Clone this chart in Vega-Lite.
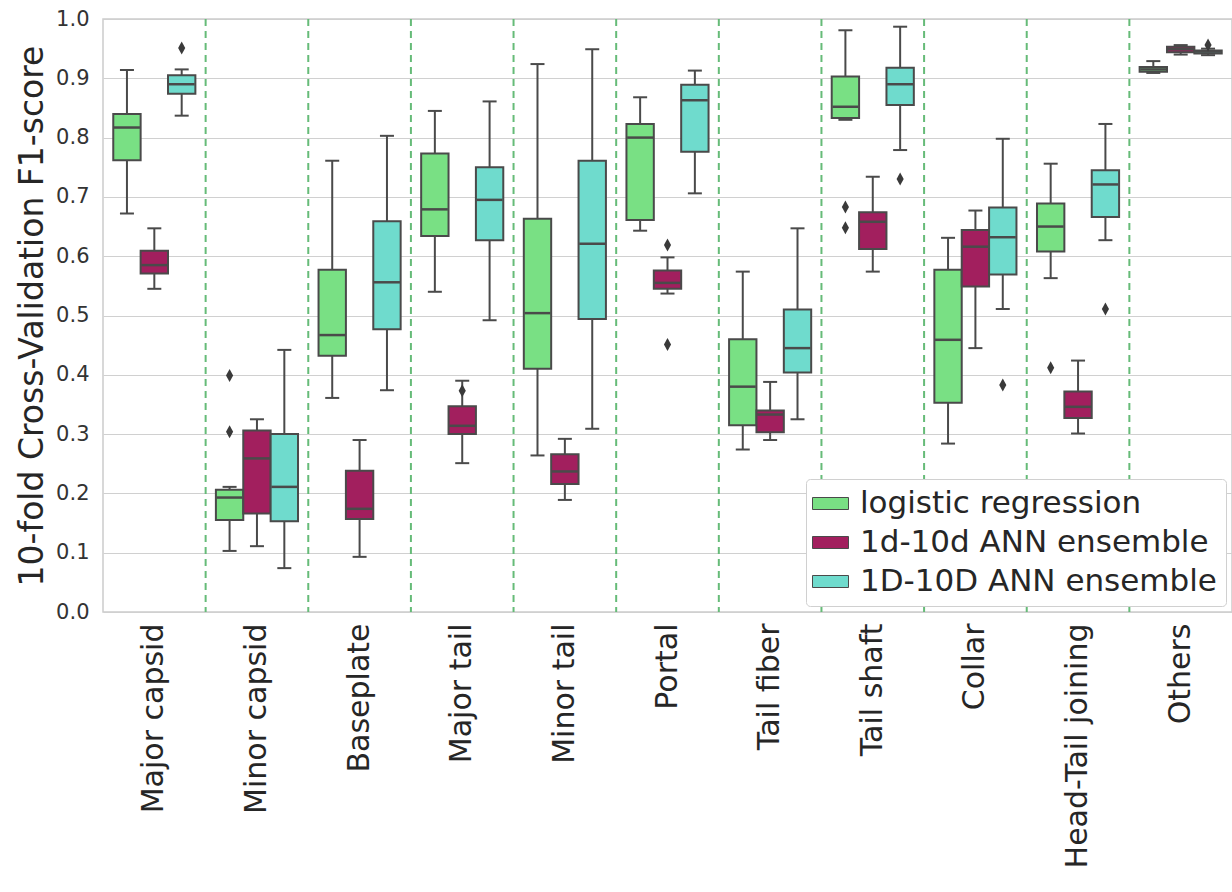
{
  "$schema": "https://vega.github.io/schema/vega-lite/v6.json",
  "width": 1129,
  "height": 593,
  "autosize": {"type": "none"},
  "padding": {"left": 103, "top": 19, "right": 0, "bottom": 280},
  "background": "white",
  "config": {
    "font": "DejaVu Sans",
    "view": {"stroke": "#cccccc", "strokeWidth": 1.5},
    "axisX": {"labelAngle": -90, "labelFontSize": 30, "labelColor": "#262626", "labelLimit": 0, "ticks": false, "domain": false, "labelPadding": 11, "title": null, "grid": false},
    "axisY": {"labelFontSize": 21, "labelColor": "#333333", "ticks": false, "domain": false, "labelPadding": 14, "grid": true, "gridColor": "#d0d0d0", "gridWidth": 1.2, "titleFontSize": 33, "titleFontWeight": "normal", "titleColor": "#262626", "titlePadding": 6}
  },
  "datasets": {
    "stats": [
      {"cat": "Major capsid", "model": "logistic regression", "lo": 0.672, "q1": 0.762, "med": 0.817, "q3": 0.840, "hi": 0.914},
      {"cat": "Major capsid", "model": "1d-10d ANN ensemble", "lo": 0.545, "q1": 0.571, "med": 0.585, "q3": 0.609, "hi": 0.647},
      {"cat": "Major capsid", "model": "1D-10D ANN ensemble", "lo": 0.837, "q1": 0.874, "med": 0.890, "q3": 0.905, "hi": 0.915},
      {"cat": "Minor capsid", "model": "logistic regression", "lo": 0.103, "q1": 0.155, "med": 0.193, "q3": 0.206, "hi": 0.211},
      {"cat": "Minor capsid", "model": "1d-10d ANN ensemble", "lo": 0.111, "q1": 0.166, "med": 0.259, "q3": 0.306, "hi": 0.325},
      {"cat": "Minor capsid", "model": "1D-10D ANN ensemble", "lo": 0.074, "q1": 0.153, "med": 0.211, "q3": 0.300, "hi": 0.442},
      {"cat": "Baseplate", "model": "logistic regression", "lo": 0.361, "q1": 0.432, "med": 0.467, "q3": 0.577, "hi": 0.761},
      {"cat": "Baseplate", "model": "1d-10d ANN ensemble", "lo": 0.093, "q1": 0.157, "med": 0.174, "q3": 0.238, "hi": 0.290},
      {"cat": "Baseplate", "model": "1D-10D ANN ensemble", "lo": 0.374, "q1": 0.477, "med": 0.556, "q3": 0.659, "hi": 0.803},
      {"cat": "Major tail", "model": "logistic regression", "lo": 0.540, "q1": 0.634, "med": 0.679, "q3": 0.773, "hi": 0.845},
      {"cat": "Major tail", "model": "1d-10d ANN ensemble", "lo": 0.251, "q1": 0.300, "med": 0.314, "q3": 0.347, "hi": 0.390},
      {"cat": "Major tail", "model": "1D-10D ANN ensemble", "lo": 0.492, "q1": 0.627, "med": 0.695, "q3": 0.750, "hi": 0.861},
      {"cat": "Minor tail", "model": "logistic regression", "lo": 0.264, "q1": 0.410, "med": 0.504, "q3": 0.663, "hi": 0.924},
      {"cat": "Minor tail", "model": "1d-10d ANN ensemble", "lo": 0.189, "q1": 0.216, "med": 0.237, "q3": 0.266, "hi": 0.292},
      {"cat": "Minor tail", "model": "1D-10D ANN ensemble", "lo": 0.309, "q1": 0.494, "med": 0.621, "q3": 0.761, "hi": 0.949},
      {"cat": "Portal", "model": "logistic regression", "lo": 0.643, "q1": 0.661, "med": 0.800, "q3": 0.823, "hi": 0.868},
      {"cat": "Portal", "model": "1d-10d ANN ensemble", "lo": 0.537, "q1": 0.545, "med": 0.555, "q3": 0.576, "hi": 0.598},
      {"cat": "Portal", "model": "1D-10D ANN ensemble", "lo": 0.706, "q1": 0.776, "med": 0.863, "q3": 0.889, "hi": 0.913},
      {"cat": "Tail fiber", "model": "logistic regression", "lo": 0.274, "q1": 0.315, "med": 0.380, "q3": 0.460, "hi": 0.574},
      {"cat": "Tail fiber", "model": "1d-10d ANN ensemble", "lo": 0.290, "q1": 0.303, "med": 0.333, "q3": 0.340, "hi": 0.388},
      {"cat": "Tail fiber", "model": "1D-10D ANN ensemble", "lo": 0.325, "q1": 0.404, "med": 0.445, "q3": 0.510, "hi": 0.647},
      {"cat": "Tail shaft", "model": "logistic regression", "lo": 0.830, "q1": 0.833, "med": 0.852, "q3": 0.903, "hi": 0.981},
      {"cat": "Tail shaft", "model": "1d-10d ANN ensemble", "lo": 0.574, "q1": 0.612, "med": 0.658, "q3": 0.674, "hi": 0.734},
      {"cat": "Tail shaft", "model": "1D-10D ANN ensemble", "lo": 0.779, "q1": 0.855, "med": 0.890, "q3": 0.918, "hi": 0.987},
      {"cat": "Collar", "model": "logistic regression", "lo": 0.284, "q1": 0.353, "med": 0.459, "q3": 0.577, "hi": 0.631},
      {"cat": "Collar", "model": "1d-10d ANN ensemble", "lo": 0.445, "q1": 0.549, "med": 0.616, "q3": 0.644, "hi": 0.677},
      {"cat": "Collar", "model": "1D-10D ANN ensemble", "lo": 0.511, "q1": 0.569, "med": 0.632, "q3": 0.682, "hi": 0.798},
      {"cat": "Head-Tail joining", "model": "logistic regression", "lo": 0.563, "q1": 0.608, "med": 0.650, "q3": 0.689, "hi": 0.756},
      {"cat": "Head-Tail joining", "model": "1d-10d ANN ensemble", "lo": 0.301, "q1": 0.327, "med": 0.346, "q3": 0.372, "hi": 0.424},
      {"cat": "Head-Tail joining", "model": "1D-10D ANN ensemble", "lo": 0.627, "q1": 0.666, "med": 0.721, "q3": 0.745, "hi": 0.823},
      {"cat": "Others", "model": "logistic regression", "lo": 0.909, "q1": 0.911, "med": 0.915, "q3": 0.919, "hi": 0.929},
      {"cat": "Others", "model": "1d-10d ANN ensemble", "lo": 0.940, "q1": 0.944, "med": 0.949, "q3": 0.953, "hi": 0.956},
      {"cat": "Others", "model": "1D-10D ANN ensemble", "lo": 0.939, "q1": 0.942, "med": 0.945, "q3": 0.947, "hi": 0.950}
    ],
    "outliers": [
      {"cat": "Major capsid", "model": "1D-10D ANN ensemble", "v": 0.951},
      {"cat": "Minor capsid", "model": "logistic regression", "v": 0.399},
      {"cat": "Minor capsid", "model": "logistic regression", "v": 0.304},
      {"cat": "Major tail", "model": "1d-10d ANN ensemble", "v": 0.373},
      {"cat": "Portal", "model": "1d-10d ANN ensemble", "v": 0.619},
      {"cat": "Portal", "model": "1d-10d ANN ensemble", "v": 0.451},
      {"cat": "Tail shaft", "model": "logistic regression", "v": 0.683},
      {"cat": "Tail shaft", "model": "logistic regression", "v": 0.648},
      {"cat": "Tail shaft", "model": "1D-10D ANN ensemble", "v": 0.730},
      {"cat": "Collar", "model": "1D-10D ANN ensemble", "v": 0.383},
      {"cat": "Head-Tail joining", "model": "logistic regression", "v": 0.412},
      {"cat": "Head-Tail joining", "model": "1D-10D ANN ensemble", "v": 0.511},
      {"cat": "Others", "model": "1D-10D ANN ensemble", "v": 0.956}
    ],
    "seps": [
      {"cat": "Minor capsid"}, {"cat": "Baseplate"}, {"cat": "Major tail"}, {"cat": "Minor tail"}, {"cat": "Portal"},
      {"cat": "Tail fiber"}, {"cat": "Tail shaft"}, {"cat": "Collar"}, {"cat": "Head-Tail joining"}, {"cat": "Others"}
    ]
  },
  "layer": [
    {
      "data": {"name": "seps"},
      "mark": {"type": "rule", "color": "#66bb78", "strokeWidth": 2, "strokeDash": [7, 5]},
      "encoding": {
        "x": {"field": "cat", "type": "nominal", "bandPosition": 0,
              "scale": {"domain": ["Major capsid", "Minor capsid", "Baseplate", "Major tail", "Minor tail", "Portal", "Tail fiber", "Tail shaft", "Collar", "Head-Tail joining", "Others"], "paddingInner": 0, "paddingOuter": 0}}
      }
    },
    {
      "data": {"name": "stats"},
      "mark": {"type": "rule", "color": "#4a4a4a", "strokeWidth": 2},
      "encoding": {
        "x": {"field": "cat", "type": "nominal"},
        "xOffset": {"field": "model", "type": "nominal", "scale": {"domain": ["logistic regression", "1d-10d ANN ensemble", "1D-10D ANN ensemble"], "paddingInner": 0, "paddingOuter": 0.375}},
        "y": {"field": "lo", "type": "quantitative"},
        "y2": {"field": "q1"}
      }
    },
    {
      "data": {"name": "stats"},
      "mark": {"type": "rule", "color": "#4a4a4a", "strokeWidth": 2},
      "encoding": {
        "x": {"field": "cat", "type": "nominal"},
        "xOffset": {"field": "model", "type": "nominal"},
        "y": {"field": "q3", "type": "quantitative"},
        "y2": {"field": "hi"}
      }
    },
    {
      "data": {"name": "stats"},
      "mark": {"type": "bar", "stroke": "#4a4a4a", "strokeWidth": 2},
      "encoding": {
        "x": {"field": "cat", "type": "nominal"},
        "xOffset": {"field": "model", "type": "nominal"},
        "y": {"field": "q1", "type": "quantitative", "title": "10-fold Cross-Validation F1-score",
              "scale": {"domain": [0, 1], "nice": false},
              "axis": {"values": [0, 0.1, 0.2, 0.3, 0.4, 0.5, 0.6, 0.7, 0.8, 0.9, 1.0], "format": ".1f"}},
        "y2": {"field": "q3"},
        "fill": {"field": "model", "type": "nominal",
                 "scale": {"domain": ["logistic regression", "1d-10d ANN ensemble", "1D-10D ANN ensemble"], "range": ["#79e084", "#a21f5e", "#6fdbcd"]},
                 "legend": {"title": null, "orient": "bottom-right", "offset": 6, "fillColor": "white", "strokeColor": "#d0d0d0", "cornerRadius": 4, "padding": 9,
                            "labelFontSize": 31, "labelColor": "#262626", "labelLimit": 0, "labelOffset": 14, "rowPadding": 7,
                            "symbolType": "M-1.5,-0.5H1.5V0.5H-1.5Z", "symbolSize": 576, "symbolStrokeColor": "#4a4a4a", "symbolStrokeWidth": 1, "symbolOpacity": 1}}
      }
    },
    {
      "data": {"name": "stats"},
      "mark": {"type": "tick", "color": "#4a4a4a", "size": 26, "thickness": 2.5, "opacity": 1},
      "encoding": {
        "x": {"field": "cat", "type": "nominal"},
        "xOffset": {"field": "model", "type": "nominal"},
        "y": {"field": "med", "type": "quantitative"}
      }
    },
    {
      "data": {"name": "stats"},
      "mark": {"type": "tick", "color": "#4a4a4a", "size": 14, "thickness": 2, "opacity": 1},
      "encoding": {
        "x": {"field": "cat", "type": "nominal"},
        "xOffset": {"field": "model", "type": "nominal"},
        "y": {"field": "lo", "type": "quantitative"}
      }
    },
    {
      "data": {"name": "stats"},
      "mark": {"type": "tick", "color": "#4a4a4a", "size": 14, "thickness": 2, "opacity": 1},
      "encoding": {
        "x": {"field": "cat", "type": "nominal"},
        "xOffset": {"field": "model", "type": "nominal"},
        "y": {"field": "hi", "type": "quantitative"}
      }
    },
    {
      "data": {"name": "outliers"},
      "mark": {"type": "point", "shape": "M0,-1L0.55,0L0,1L-0.55,0Z", "filled": true, "color": "#3a3a3a", "size": 169, "opacity": 1},
      "encoding": {
        "x": {"field": "cat", "type": "nominal"},
        "xOffset": {"field": "model", "type": "nominal"},
        "y": {"field": "v", "type": "quantitative"}
      }
    }
  ]
}
